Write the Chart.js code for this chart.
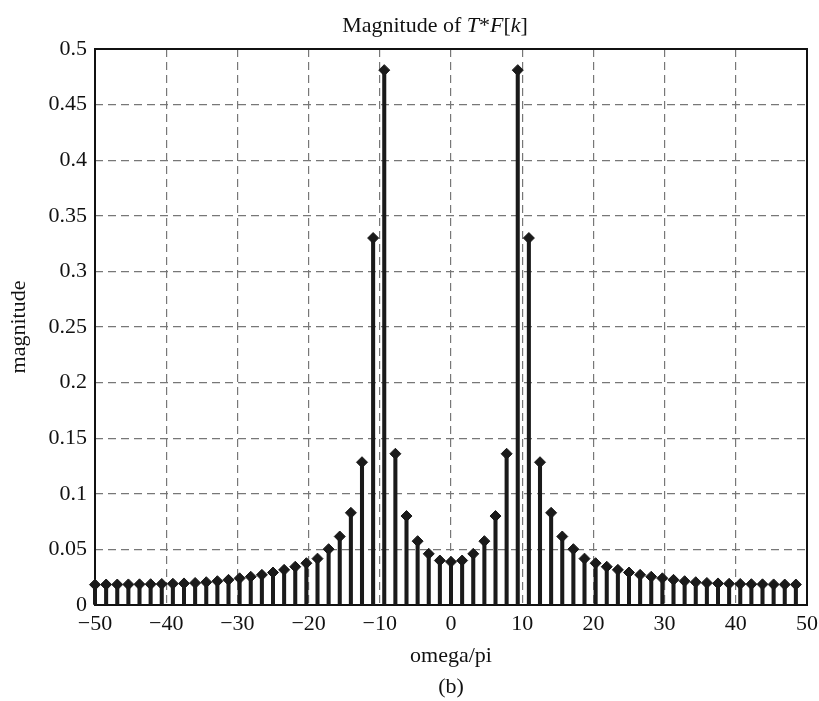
<!DOCTYPE html>
<html>
<head>
<meta charset="utf-8">
<script src="https://cdn.jsdelivr.net/npm/chart.js@4.4.1/dist/chart.umd.min.js"></script>
<style>
  html, body { margin: 0; padding: 0; background: #fff; }
  #wrap { width: 819px; height: 701px; }
</style>
</head>
<body>
<div id="wrap"><canvas id="myChart" width="819" height="701"></canvas></div>
<script>
// frekvence (omega/pi), 64 bodu od -50 do 48.4375
const omega = [
  -50, -48.4375, -46.875, -45.3125, -43.75, -42.1875, -40.625, -39.0625,
  -37.5, -35.9375, -34.375, -32.8125, -31.25, -29.6875, -28.125, -26.5625,
  -25, -23.4375, -21.875, -20.3125, -18.75, -17.1875, -15.625, -14.0625,
  -12.5, -10.9375, -9.375, -7.8125, -6.25, -4.6875, -3.125, -1.5625,
  0, 1.5625, 3.125, 4.6875, 6.25, 7.8125, 9.375, 10.9375,
  12.5, 14.0625, 15.625, 17.1875, 18.75, 20.3125, 21.875, 23.4375,
  25, 26.5625, 28.125, 29.6875, 31.25, 32.8125, 34.375, 35.9375,
  37.5, 39.0625, 40.625, 42.1875, 43.75, 45.3125, 46.875, 48.4375
];

// velikost |T*F[k]|
const magnitude = [
  0.0183, 0.0184, 0.0184, 0.0185, 0.0186, 0.0187, 0.0189, 0.0191,
  0.0194, 0.0198, 0.0205, 0.0214, 0.0226, 0.0240, 0.0254, 0.0271,
  0.0292, 0.0316, 0.0344, 0.0376, 0.0417, 0.0502, 0.0616, 0.0829,
  0.1284, 0.330, 0.481, 0.136, 0.0800, 0.0574, 0.0460, 0.0400,
  0.0388, 0.0400, 0.0460, 0.0574, 0.0800, 0.136, 0.481, 0.330,
  0.1284, 0.0829, 0.0616, 0.0502, 0.0417, 0.0376, 0.0344, 0.0316,
  0.0292, 0.0271, 0.0254, 0.0240, 0.0226, 0.0214, 0.0205, 0.0198,
  0.0194, 0.0191, 0.0189, 0.0187, 0.0186, 0.0185, 0.0184, 0.0184
];

const xTicks = [-50, -40, -30, -20, -10, 0, 10, 20, 30, 40, 50];
const yTicks = [0, 0.05, 0.1, 0.15, 0.2, 0.25, 0.3, 0.35, 0.4, 0.45, 0.5];

const serif = '"Liberation Serif", "Times New Roman", serif';
const tickFont = { family: serif, size: 22 };

const points = omega.map((w, i) => ({ x: w, y: magnitude[i] }));

// ramecek kolem grafu
const boxPlugin = {
  id: 'box',
  beforeDatasetsDraw(chart) {
    const a = chart.chartArea;
    const ctx = chart.ctx;
    ctx.save();
    ctx.strokeStyle = '#111';
    ctx.lineWidth = 2;
    ctx.strokeRect(a.left, a.top, a.right - a.left, a.bottom - a.top);
    ctx.restore();
  }
};

// titulek s kurzivou + popisek (b)
const textPlugin = {
  id: 'texts',
  afterDraw(chart) {
    const ctx = chart.ctx;
    const parts = [
      ['Magnitude of ', false], ['T', true], ['*', false], ['F', true],
      ['[', false], ['k', true], [']', false]
    ];
    ctx.save();
    ctx.fillStyle = '#111';
    ctx.textBaseline = 'alphabetic';
    let total = 0;
    parts.forEach(p => {
      ctx.font = (p[1] ? 'italic ' : '') + '22px ' + serif;
      total += ctx.measureText(p[0]).width;
    });
    let x = 435 - total / 2;
    parts.forEach(p => {
      ctx.font = (p[1] ? 'italic ' : '') + '22px ' + serif;
      ctx.fillText(p[0], x, 32);
      x += ctx.measureText(p[0]).width;
    });
    ctx.font = '22px ' + serif;
    ctx.textAlign = 'center';
    ctx.fillText('(b)', 451, 693);
    ctx.restore();
  }
};

const ctx = document.getElementById('myChart').getContext('2d');

const myChart = new Chart(ctx, {
  type: 'bar',
  data: {
    datasets: [
      {
        type: 'scatter',
        data: points,
        pointStyle: 'rectRot',
        pointRadius: 5.5,
        pointBackgroundColor: '#1a1a1a',
        pointBorderColor: '#1a1a1a',
        pointBorderWidth: 1,
        showLine: false,
        clip: false,
        order: 0
      },
      {
        type: 'bar',
        data: points,
        backgroundColor: '#1a1a1a',
        borderWidth: 0,
        barThickness: 3.4,
        clip: false,
        order: 1
      }
    ]
  },
  options: {
    responsive: false,
    animation: false,
    layout: { padding: { top: 49, right: 12, bottom: 0, left: 0 } },
    plugins: {
      legend: { display: false },
      tooltip: { enabled: false }
    },
    scales: {
      x: {
        type: 'linear',
        min: -50,
        max: 50,
        offset: false,
        afterBuildTicks: scale => { scale.ticks = xTicks.map(v => ({ value: v })); },
        afterFit: scale => {
          scale.height = 96;
          scale.paddingLeft = 0;
          scale.paddingRight = 0;
        },
        ticks: {
          font: tickFont,
          color: '#111',
          padding: 6,
          maxRotation: 0,
          autoSkip: false,
          callback: v => String(v).replace('-', '\u2212')
        },
        grid: { color: '#777', lineWidth: 1.2, drawTicks: false, offset: false },
        border: { display: false, dash: [8, 5] },
        title: {
          display: true,
          text: 'omega/pi',
          font: tickFont,
          color: '#111',
          padding: { top: 0, bottom: 32 }
        }
      },
      y: {
        min: 0,
        max: 0.5,
        afterBuildTicks: scale => { scale.ticks = yTicks.map(v => ({ value: v })); },
        afterFit: scale => {
          scale.width = 95;
          scale.paddingTop = 0;
          scale.paddingBottom = 0;
        },
        ticks: {
          font: tickFont,
          color: '#111',
          padding: 8,
          callback: v => String(+v.toFixed(2))
        },
        grid: { color: '#777', lineWidth: 1.2, drawTicks: false },
        border: { display: false, dash: [8, 5] },
        title: {
          display: true,
          text: 'magnitude',
          font: tickFont,
          color: '#111',
          padding: { top: 6, bottom: 0 }
        }
      }
    }
  },
  plugins: [boxPlugin, textPlugin]
});
</script>
</body>
</html>
